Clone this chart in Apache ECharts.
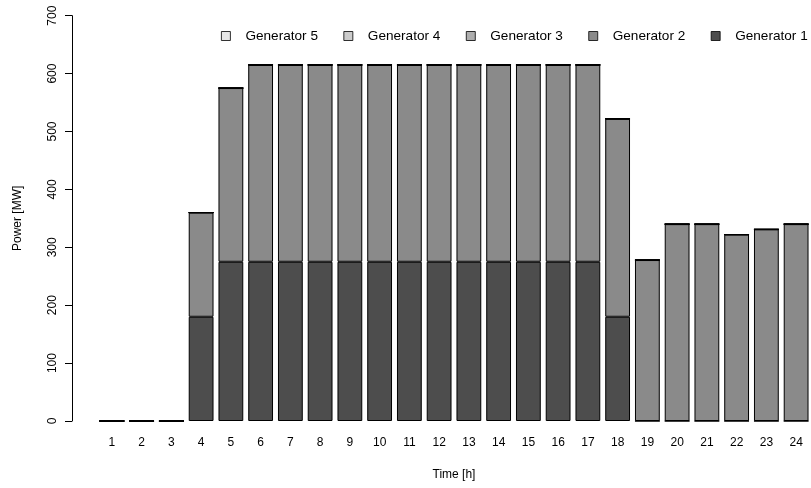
<!DOCTYPE html>
<html>
<head>
<meta charset="utf-8">
<script src="https://cdn.jsdelivr.net/npm/echarts@6/dist/echarts.min.js"></script>
<style>
  html, body { margin: 0; padding: 0; background: #ffffff; }
  #chart { width: 811px; height: 488px; }
</style>
</head>
<body>
<div id="chart"></div>
<script>
// Hourly dispatch of five generators, stacked per hour
const hours = ['1','2','3','4','5','6','7','8','9','10','11','12','13','14','15','16','17','18','19','20','21','22','23','24'];
const gen1 = [0,0,0,180,275,275,275,275,275,275,275,275,275,275,275,275,275,180,0,0,0,0,0,0];
const gen2 = [0,0,0,180,300,340,340,340,340,340,340,340,340,340,340,340,340,342,278,340,340,322,331,340];
const gen3 = [0,0,0,0,0,0,0,0,0,0,0,0,0,0,0,0,0,0,0,0,0,0,0,0];
const gen4 = [0,0,0,0,0,0,0,0,0,0,0,0,0,0,0,0,0,0,0,0,0,0,0,0];
const gen5 = [0,0,0,0,0,0,0,0,0,0,0,0,0,0,0,0,0,0,0,0,0,0,0,0];
const yTicks = [0,100,200,300,400,500,600,700];

const seriesNames = ['Generator 1','Generator 2','Generator 3','Generator 4','Generator 5'];
const seriesData = [gen1, gen2, gen3, gen4, gen5];
const seriesColors = ['#4D4D4D','#8A8A8A','#AEAEAE','#CCCCCC','#E6E6E6'];

const font = 'Liberation Sans, Arial, Helvetica, sans-serif';

const chart = echarts.init(document.getElementById('chart'), null, { renderer: 'canvas' });

chart.setOption({
  animation: false,
  backgroundColor: '#ffffff',
  textStyle: { fontFamily: font },
  grid: { left: 97, right: -1, top: 15.7, bottom: 67, containLabel: false },
  legend: {
    data: seriesNames.slice().reverse(),
    left: 221, top: 29,
    padding: 0,
    itemWidth: 9, itemHeight: 9,
    itemGap: 25.5,
    icon: 'rect',
    itemStyle: { borderColor: '#000', borderWidth: 0.8 },
    textStyle: { fontFamily: font, fontSize: 13.6, color: '#000', padding: [0, 0, 0, 10] }
  },
  xAxis: {
    type: 'category',
    data: hours,
    name: 'Time [h]',
    nameLocation: 'middle',
    nameGap: 48,
    nameTextStyle: { fontFamily: font, fontSize: 12, color: '#000' },
    axisLine: { show: false },
    axisTick: { show: false },
    axisLabel: { margin: 16, fontFamily: font, fontSize: 12, color: '#000', interval: 0 }
  },
  yAxis: {
    type: 'value',
    min: yTicks[0], max: yTicks[yTicks.length - 1], interval: 100,
    offset: 25,
    name: 'Power [MW]',
    nameLocation: 'middle',
    nameGap: 48,
    nameTextStyle: { fontFamily: font, fontSize: 12, color: '#000' },
    axisLine: { show: true, lineStyle: { color: '#000', width: 1 } },
    axisTick: { show: true, length: 7, lineStyle: { color: '#000', width: 1 } },
    axisLabel: { rotate: 90, margin: 13, fontFamily: font, fontSize: 12, color: '#000' },
    splitLine: { show: false }
  },
  series: seriesNames.map((name, i) => ({
    name: name,
    type: 'bar',
    stack: 'total',
    data: seriesData[i],
    barCategoryGap: '16.7%',
    itemStyle: { color: seriesColors[i], borderColor: '#000', borderWidth: 1 },
    emphasis: { disabled: true }
  }))
});
</script>
</body>
</html>
